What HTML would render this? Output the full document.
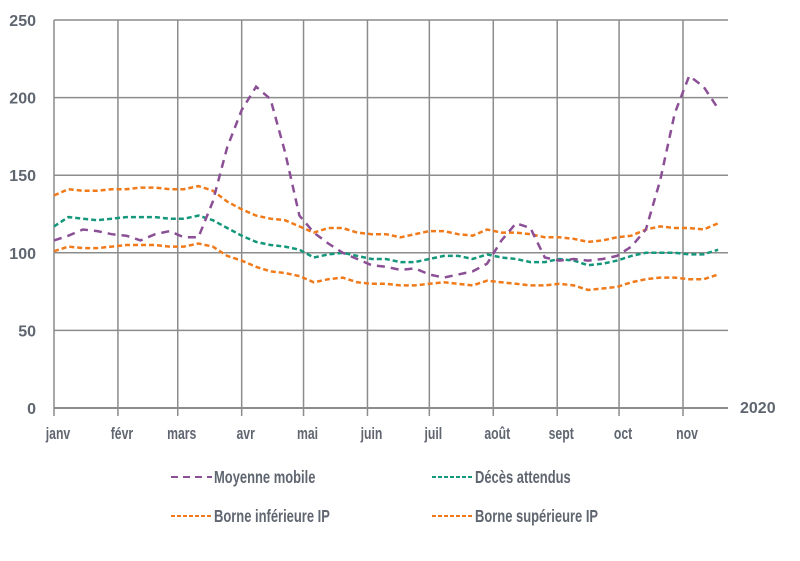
<!DOCTYPE html>
<html><head><meta charset="utf-8"><style>
body{margin:0;background:#fff}
svg text{font-family:"Liberation Sans Narrow","Liberation Sans",sans-serif;fill:#5f6670;font-weight:bold}
</style></head><body>
<svg id="c" width="800" height="556" viewBox="0 0 800 556"></svg>
<script>
const monthLabels=["janv","févr","mars","avr","mai","juin","juil","août","sept","oct","nov"];
const monthStartDays=[0,31,60,91,121,152,182,213,244,274,305];
const yTicks=[0,50,100,150,200,250];
const moyenneMobile=[108,111,115,114,112,111,108,112,114,110,110,133,168,192,207,199,165,124,113,106,100,96,92,91,89,90,86,84,86,88,93,108,119,116,97,95,96,95,96,98,104,115,147,190,214,207,193];
const decesAttendus=[117,123,122,121,122,123,123,123,122,122,124,121,116,111,107,105,104,102,97,99,100,98,96,96,94,94,96,98,98,96,99,97,96,94,94,96,95,92,93,95,98,100,100,100,99,99,102];
const borneInf=[101,104,103,103,104,105,105,105,104,104,106,104,98,95,91,88,87,85,81,83,84,81,80,80,79,79,80,81,80,79,82,81,80,79,79,80,79,76,77,78,81,83,84,84,83,83,86];
const borneSup=[137,141,140,140,141,141,142,142,141,141,143,140,133,128,124,122,121,117,113,116,116,113,112,112,110,112,114,114,112,111,115,113,113,112,110,110,109,107,108,110,111,115,117,116,116,115,119];
const svg=document.getElementById('c');const NS="http://www.w3.org/2000/svg";
const X0=54,X1=728,PXD=(683-54)/305;
const xd=d=>X0+d*PXD, xw=w=>xd(w*7);
const y=v=>408-v*(388/250);
function mk(t,a,p){const e=document.createElementNS(NS,t);for(const k in a)e.setAttribute(k,a[k]);(p||svg).appendChild(e);return e;}
function sx(x,s){return `translate(${x},0) scale(${s},1) translate(${-x},0)`;}
yTicks.forEach(v=>{
 const l=mk('line',{x1:X0,x2:X1,y1:y(v),y2:y(v),stroke:'#8c8c8c','stroke-width':v===0?2:1.5});
 
 
 const t=mk('text',{x:36,y:y(v)+6,'text-anchor':'end','font-size':16});t.textContent=v;
 
 
});
monthStartDays.forEach((d,i)=>{
 const l=mk('line',{x1:xd(d),x2:xd(d),y1:y(250),y2:y(0)+8,stroke:'#8c8c8c','stroke-width':1.5});
 
 
 const t=mk('text',{x:xd(d)+4,y:439,'text-anchor':'middle','font-size':17,transform:sx(xd(d)+4,0.72)});t.textContent=monthLabels[i];
 
 
});
const yr=mk('text',{x:740,y:413,'font-size':16});yr.textContent="2020";


function series(arr,color,dash,name){
 const p=mk('polyline',{points:arr.map((v,i)=>xw(i).toFixed(1)+','+y(v).toFixed(1)).join(' '),fill:'none',stroke:color,'stroke-width':2.5,'stroke-dasharray':dash});
 
 
}
series(borneSup,'#f07a1a','5 3','series-borne-superieure');
series(borneInf,'#f07a1a','5 3','series-borne-inferieure');
series(decesAttendus,'#14977a','5 3','series-deces-attendus');
series(moyenneMobile,'#8b4f96','8 6','series-moyenne-mobile');
const leg=[["Moyenne mobile",'#8b4f96','7 5',171,477],["Décès attendus",'#14977a','4 2',432,477],["Borne inférieure IP",'#f07a1a','4 2',171,516],["Borne supérieure IP",'#f07a1a','4 2',432,516]];
leg.forEach(L=>{
 const g=mk('g',{});
 
 
 mk('line',{x1:L[3],x2:L[3]+41,y1:L[4],y2:L[4],stroke:L[1],'stroke-width':2,'stroke-dasharray':L[2]},g);
 const t=mk('text',{x:L[3]+43,y:L[4]+6,'font-size':18,transform:sx(L[3]+43,0.72)},g);t.textContent=L[0];
});
</script>
</body></html>
